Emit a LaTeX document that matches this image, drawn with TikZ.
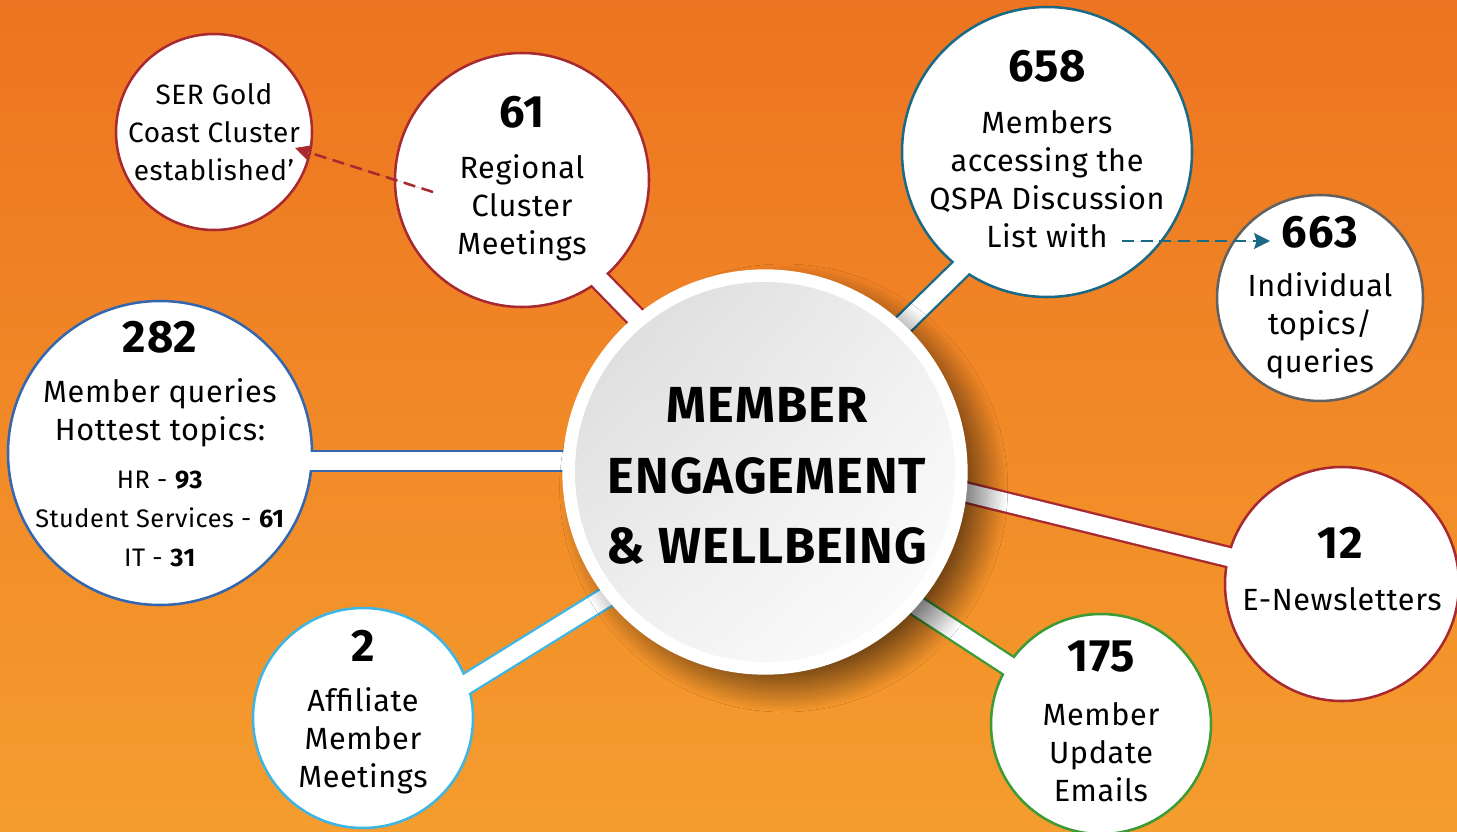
\documentclass[tikz,border=0pt]{standalone}
\usepackage{fontspec}
\setmainfont{Fira Sans}[LetterSpace=2.0]
\usetikzlibrary{arrows.meta,shadows.blur,shadings}

\definecolor{bgtop}{HTML}{ED7420}
\definecolor{bgbot}{HTML}{F59D2E}
\definecolor{cRed}{HTML}{A82A30}
\definecolor{cTeal}{HTML}{1B6A85}
\definecolor{cGrey}{HTML}{616161}
\definecolor{cBlue}{HTML}{3566B0}
\definecolor{cSky}{HTML}{3FB5E3}
\definecolor{cGreen}{HTML}{3D9B35}

\tikzset{every picture/.style={line width=0.75pt}}

\begin{document}
\begin{tikzpicture}[x=0.75pt,y=0.75pt,yscale=-1,xscale=1,
  bubble/.style={circle, draw=#1, line width=1.9pt, fill=white, inner sep=0pt},
  bandedge/.style={draw=#1, line width=17pt},
  bandcore/.style={draw=white, line width=13.5pt},
  numtxt/.style={font=\fontsize{34}{40}\selectfont\bfseries, inner sep=0pt},
  bodytxt/.style={font=\fontsize{23}{28.5}\selectfont, align=center, inner sep=0pt},
  sertxt/.style={font=\fontsize{21}{28.5}\selectfont, align=center, inner sep=0pt},
  smalltxt/.style={font=\fontsize{19}{29.25}\selectfont, align=center, inner sep=0pt},
  hubtxt/.style={font=\fontsize{38}{53}\selectfont\bfseries, align=center, inner sep=0pt},
  dasharrow/.style={draw=#1, fill=#1, dash pattern={on 9pt off 5pt}, -{Stealth[length=12pt,width=12pt,inset=2pt]}}]
\useasboundingbox (0,0) rectangle (1457,832);

%Shape: Rectangle [background]
\shade [top color=bgtop, bottom color=bgbot] (0,0) rectangle (1457,832);

%Band end points
\coordinate (h61) at (765,450);  \coordinate (e61) at (522,200);
\coordinate (h658) at (765,460); \coordinate (e658) at (1047,184);
\coordinate (h282) at (765,461); \coordinate (e282) at (160,461);
\coordinate (h2) at (765,499);   \coordinate (e2) at (363,748);
\coordinate (h175) at (765,507); \coordinate (e175) at (1101,726);
\coordinate (h12) at (765,443);  \coordinate (e12) at (1342,585);

%Straight Lines [bands, outline]
\foreach \b/\c in {61/cRed,658/cTeal,282/cBlue,2/cSky,175/cGreen,12/cRed}
  \draw [bandedge=\c] (h\b) -- (e\b);

%Shape: Circle
\node [bubble=cRed, minimum size=147pt] (nSER) at (214,132) {};
%Shape: Circle
\node [bubble=cRed, minimum size=190.5pt] (n61) at (522,180) {};
%Shape: Circle
\node [bubble=cTeal, minimum size=217.5pt] (n658) at (1047,152) {};
%Shape: Circle
\node [bubble=cGrey, minimum size=154.5pt] (n663) at (1320,298) {};
%Shape: Circle
\node [bubble=cBlue, minimum size=228pt] (n282) at (160,453) {};
%Shape: Circle
\node [bubble=cSky, minimum size=165pt] (n2) at (363,718) {};
%Shape: Circle
\node [bubble=cGreen, minimum size=165pt] (n175) at (1101,724) {};
%Shape: Circle
\node [bubble=cRed, minimum size=175.5pt] (n12) at (1342,584) {};

%Straight Lines [bands, white core]
\foreach \b in {61,658,282,2,175,12}
  \draw [bandcore] (h\b) -- (e\b);

%Shape: Circle [hub]
\node [circle, fill=white, minimum size=304pt, inner sep=0pt,
  blur shadow={shadow xshift=14pt, shadow yshift=-12pt, shadow blur radius=16pt, shadow blur steps=40, shadow opacity=50}] (hub) at (765,472) {};
\shade [upper left=black!15, lower right=white, upper right=black!6, lower left=black!6] (hub.center) circle [radius=190];

%Dashed arrows
\coordinate (s61) at (433,192);   \coordinate (aSER) at (295,148);
\coordinate (sList) at (1122,241); \coordinate (a663) at (1270,241);
\draw [dasharrow=cRed, line width=1.9pt] (s61) -- (aSER);
\draw [dasharrow=cTeal, line width=1.5pt] (sList) -- (a663);

% Text Node
\node [sertxt] (tSER) at (214,132) {SER Gold\\Coast Cluster\\established’};
% Text Node
\node [numtxt] (t61num) at (522,112) {61};
\node [bodytxt] (t61) at (522,208) {Regional\\Cluster\\Meetings};
% Text Node
\node [numtxt] (t658num) at (1047,66) {658};
\node [bodytxt] (t658) at (1047,179) {Members\\accessing the\\QSPA Discussion\\List with};
% Text Node
\node [numtxt] (t663num) at (1320,232) {663};
\node [bodytxt] (t663) at (1320,326) {Individual\\topics/\\queries};
% Text Node
\node [numtxt] (t282num) at (160,337) {282};
\node [bodytxt] (t282) at (160,413) {Member queries\\Hottest topics:};
\node [smalltxt] (t282top) at (160,519) {HR - \textbf{93}\\Student Services - \textbf{61}\\IT - \textbf{31}};
% Text Node
\node [numtxt] (t2num) at (363,646) {2};
\node [bodytxt] (t2) at (363,741) {Affiliate\\Member\\Meetings};
% Text Node
\node [numtxt] (t175num) at (1101,657) {175};
\node [bodytxt] (t175) at (1101,752) {Member\\Update\\Emails};
% Text Node
\node [numtxt] (t12num) at (1340,543) {12};
\node [bodytxt] (t12) at (1342,599) {E-Newsletters};
% Text Node
\node [hubtxt] (thub) at (767,476) {MEMBER\\ENGAGEMENT\\\& WELLBEING};
\end{tikzpicture}
\end{document}
